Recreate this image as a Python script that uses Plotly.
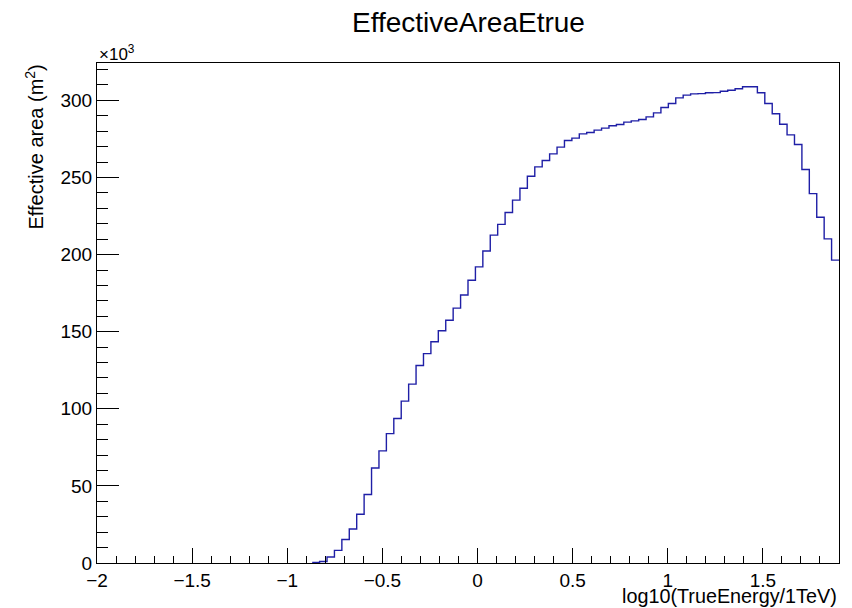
import plotly.graph_objects as go

# Histogram definition (log10 of true energy / 1 TeV)
X_MIN = -2.0
X_MAX = 1.9
N_BINS = 100

# Effective area per bin, in units of 10^3 m^2
effective_area = [
    0, 0, 0, 0, 0, 0, 0, 0, 0, 0,
    0, 0, 0, 0, 0, 0, 0, 0, 0, 0,
    0, 0, 0, 0, 0, 0, 0, 0, 0, 0.4,
    1.0, 3.9, 8.2, 15.2, 22.0, 31.6, 44.4, 61.6, 72.7, 83.9,
    93.7, 105.0, 116.0, 128.1, 135.8, 143.5, 150.6, 157.4, 165.3, 173.8,
    183.4, 192.0, 202.3, 212.6, 219.6, 227.3, 235.3, 243.0, 250.8, 256.9,
    261.0, 265.3, 269.7, 274.0, 275.5, 278.3, 279.2, 280.7, 282.0, 283.5,
    284.4, 285.9, 286.7, 287.6, 289.3, 291.9, 295.4, 298.0, 301.6, 303.4,
    304.2, 304.4, 304.9, 305.0, 305.9, 306.6, 307.5, 308.8, 308.8, 304.9,
    298.0, 291.3, 284.5, 277.6, 271.4, 255.2, 239.5, 224.2, 210.2, 196.4,
]

title_text = "EffectiveAreaEtrue"
x_title = "log10(TrueEnergy/1TeV)"
y_title = "Effective area (m<sup>2</sup>)"
y_exponent = "×10<sup>3</sup>"

bin_width = (X_MAX - X_MIN) / N_BINS
edges = [X_MIN + i * bin_width for i in range(N_BINS + 1)]

# empty bins lie on the x axis and are hidden by it, as in the original
first = next(i for i, v in enumerate(effective_area) if v > 0)
xs = edges[first:-1] + [edges[-1]]
ys = effective_area[first:] + [effective_area[-1]]

y_max = max(effective_area) * 1.05

FONT = "Liberation Sans, Arial, Helvetica, sans-serif"

fig = go.Figure()
fig.add_trace(go.Scatter(
    x=xs, y=ys, mode="lines", line_shape="hv",
    line=dict(color="#1f1fa6", width=1.4),
    hoverinfo="skip", showlegend=False,
))

fig.update_layout(
    width=852, height=608,
    margin=dict(l=97, r=13, t=63, b=45),
    paper_bgcolor="white", plot_bgcolor="white",
    font=dict(family=FONT, size=19, color="black"),
    showlegend=False,
)

fig.update_xaxes(
    range=[X_MIN, X_MAX], showgrid=False, zeroline=False,
    showline=True, linecolor="black", linewidth=1, mirror=True,
    ticks="inside", ticklen=15, tickwidth=1, tickcolor="black",
    tick0=0, dtick=0.5,
    minor=dict(ticks="inside", ticklen=7, tickcolor="black", dtick=0.1, tick0=0, showgrid=False),
    tickfont=dict(family=FONT, size=19, color="black"),
)
fig.update_yaxes(
    range=[0, y_max], showgrid=False, zeroline=False,
    showline=True, linecolor="black", linewidth=1, mirror=True,
    ticks="inside", ticklen=22, tickwidth=1, tickcolor="black",
    tick0=0, dtick=50,
    minor=dict(ticks="inside", ticklen=11, tickcolor="black", dtick=10, tick0=0, showgrid=False),
    tickfont=dict(family=FONT, size=19, color="black"),
)

fig.add_annotation(text=title_text, xref="paper", yref="paper", x=0.5, y=1,
                   yshift=41, xanchor="center", yanchor="middle", showarrow=False,
                   font=dict(family=FONT, size=28, color="black"))
fig.add_annotation(text=x_title, xref="paper", yref="paper", x=1, y=0,
                   yshift=-33, xanchor="right", yanchor="middle", showarrow=False,
                   font=dict(family=FONT, size=19.8, color="black"))
fig.add_annotation(text=y_title, xref="paper", yref="paper", x=0, y=1,
                   xshift=-63, xanchor="center", yanchor="top", textangle=-90,
                   showarrow=False, font=dict(family=FONT, size=20, color="black"))
fig.add_annotation(text=y_exponent, xref="paper", yref="paper", x=0, y=1,
                   yshift=-3, xanchor="left", yanchor="bottom", showarrow=False,
                   font=dict(family=FONT, size=17, color="black"))

fig.write_html("out.html", config={"displayModeBar": False},
               post_script="document.body.style.margin='0';")
